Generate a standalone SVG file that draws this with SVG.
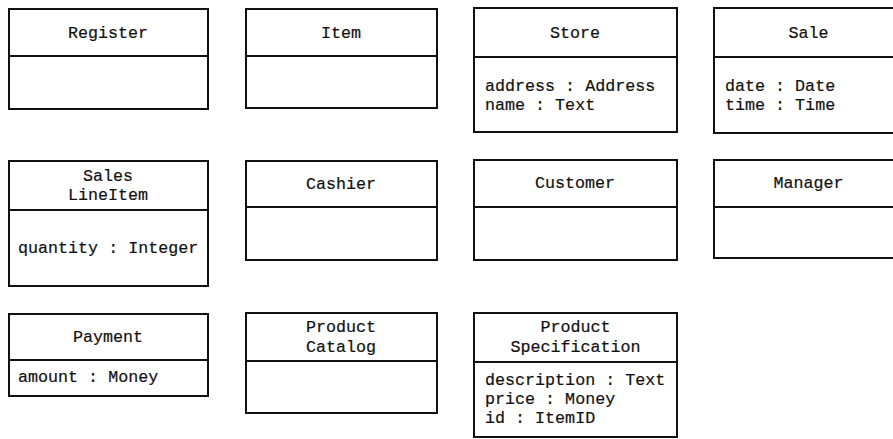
<svg xmlns="http://www.w3.org/2000/svg" width="893" height="439" viewBox="0 0 893 439">
  <style>
    .box { fill: #ffffff; stroke: #111111; stroke-width: 2; }
    .sep { stroke: #111111; stroke-width: 2; }
    text { font-family: "Liberation Mono", "Courier New", monospace; font-size: 16.7px; fill: #111111; stroke: #111111; stroke-width: 0.2; }
    .name { text-anchor: middle; }
  </style>
  <rect width="893" height="439" fill="#ffffff"/>

  <!-- row 1 -->
  <g id="register">
    <rect class="box" x="9" y="9" width="199" height="100"/>
    <line class="sep" x1="9" y1="56" x2="208" y2="56"/>
    <text class="name" x="108" y="38">Register</text>
  </g>
  <g id="item">
    <rect class="box" x="246" y="9" width="191" height="99"/>
    <line class="sep" x1="246" y1="56" x2="437" y2="56"/>
    <text class="name" x="341" y="38">Item</text>
  </g>
  <g id="store">
    <rect class="box" x="474" y="8" width="203" height="124"/>
    <line class="sep" x1="474" y1="57" x2="677" y2="57"/>
    <text class="name" x="575" y="38">Store</text>
    <text x="485" y="91">address : Address</text>
    <text x="485" y="110">name : Text</text>
  </g>
  <g id="sale">
    <rect class="box" x="714" y="8" width="190" height="125"/>
    <line class="sep" x1="714" y1="57" x2="904" y2="57"/>
    <text class="name" x="808.5" y="38">Sale</text>
    <text x="725" y="91">date : Date</text>
    <text x="725" y="110">time : Time</text>
  </g>

  <!-- row 2 -->
  <g id="sales-line-item">
    <rect class="box" x="9" y="161" width="199" height="125"/>
    <line class="sep" x1="9" y1="210" x2="208" y2="210"/>
    <text class="name" x="108" y="181">Sales</text>
    <text class="name" x="108" y="200">LineItem</text>
    <text x="18" y="253">quantity : Integer</text>
  </g>
  <g id="cashier">
    <rect class="box" x="246" y="161" width="191" height="99"/>
    <line class="sep" x1="246" y1="207" x2="437" y2="207"/>
    <text class="name" x="341" y="189">Cashier</text>
  </g>
  <g id="customer">
    <rect class="box" x="474" y="160" width="203" height="100"/>
    <line class="sep" x1="474" y1="207" x2="677" y2="207"/>
    <text class="name" x="575" y="188">Customer</text>
  </g>
  <g id="manager">
    <rect class="box" x="714" y="160" width="190" height="98"/>
    <line class="sep" x1="714" y1="207" x2="904" y2="207"/>
    <text class="name" x="808.5" y="188">Manager</text>
  </g>

  <!-- row 3 -->
  <g id="payment">
    <rect class="box" x="9" y="314" width="199" height="82"/>
    <line class="sep" x1="9" y1="360" x2="208" y2="360"/>
    <text class="name" x="108" y="342">Payment</text>
    <text x="18" y="382">amount : Money</text>
  </g>
  <g id="product-catalog">
    <rect class="box" x="246" y="313" width="191" height="100"/>
    <line class="sep" x1="246" y1="361" x2="437" y2="361"/>
    <text class="name" x="341" y="332">Product</text>
    <text class="name" x="341" y="352">Catalog</text>
  </g>
  <g id="product-specification">
    <rect class="box" x="474" y="313" width="203" height="124"/>
    <line class="sep" x1="474" y1="362" x2="677" y2="362"/>
    <text class="name" x="575.5" y="332">Product</text>
    <text class="name" x="575.5" y="352">Specification</text>
    <text x="485" y="385">description : Text</text>
    <text x="485" y="404">price : Money</text>
    <text x="485" y="423">id : ItemID</text>
  </g>

  <!-- connectors: none in this diagram -->
  <g id="connectors"/>
</svg>
